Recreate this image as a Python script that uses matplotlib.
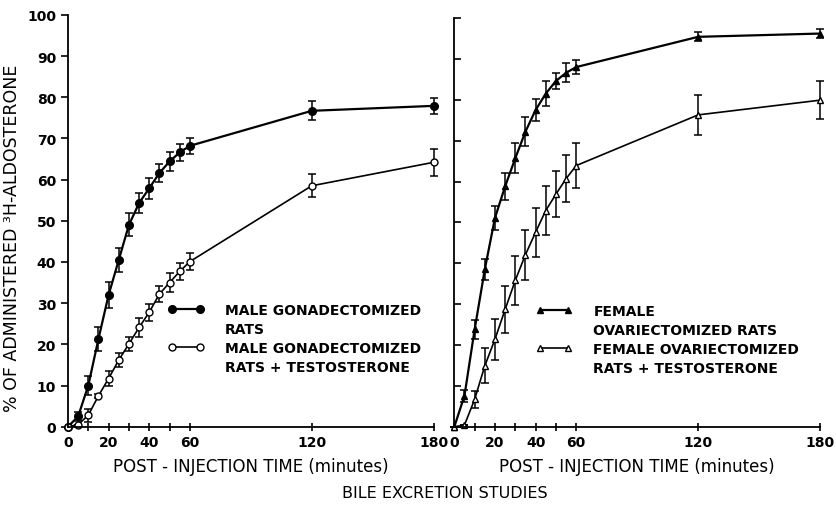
import numpy as np
import matplotlib
matplotlib.use('Agg')
import matplotlib.pyplot as plt
from matplotlib.lines import Line2D

# time points (minutes)
t = [0, 5, 10, 15, 20, 25, 30, 35, 40, 45, 50, 55, 60, 120, 180]

# male gonadectomized rats
male = [0, 2.5, 10.0, 21.3, 32.0, 40.5, 49.0, 54.3, 57.9, 61.6, 64.4, 66.6, 68.2, 76.7, 77.9]
male_err = [0, 1.0, 2.2, 2.8, 3.2, 3.0, 2.8, 2.4, 2.5, 2.2, 2.2, 2.1, 2.0, 2.3, 2.0]
# male gonadectomized rats + testosterone
male_t = [0, 0.5, 2.8, 7.5, 11.7, 16.2, 20.1, 24.1, 27.8, 32.2, 35.0, 37.7, 40.1, 58.5, 64.2]
male_t_err = [0, 0, 1.6, 0.5, 1.8, 1.8, 1.6, 2.2, 2.1, 2.0, 2.3, 2.0, 2.1, 2.8, 3.3]

# female ovariectomized rats
female = [0, 7.6, 23.8, 38.5, 51.1, 58.8, 65.7, 72.2, 77.5, 81.5, 84.6, 86.6, 88.0, 95.4, 96.2]
female_err = [0, 1.5, 2.4, 2.6, 3.0, 3.3, 3.7, 3.5, 2.7, 3.0, 2.0, 2.3, 1.8, 1.1, 1.0]
# female ovariectomized rats + testosterone
female_t = [0, 0.4, 6.7, 14.9, 21.4, 28.7, 35.8, 42.1, 47.6, 52.9, 56.9, 60.7, 63.9, 76.3, 79.9]
female_t_err = [0, 0, 2.1, 4.3, 5.0, 5.7, 5.9, 6.1, 6.0, 5.9, 5.6, 5.7, 5.4, 4.9, 4.7]

major_x = [0, 20, 40, 60, 120, 180]
minor_x = [10, 30, 50]
yticks = np.arange(0, 101, 10)

plt.rcParams['font.family'] = 'DejaVu Sans'

fig = plt.figure(figsize=(8.37, 5.06), dpi=100)
ax1 = fig.add_axes([0.0812, 0.1547, 0.437, 0.814])
ax2 = fig.add_axes([0.5428, 0.1547, 0.437, 0.8077])

def style_axis(ax, ytick_dir):
    ax.set_xlim(0, 180)
    ax.set_ylim(0, 100)
    ax.spines['top'].set_visible(False)
    ax.spines['right'].set_visible(False)
    ax.spines['left'].set_linewidth(1.3)
    ax.spines['bottom'].set_linewidth(1.3)
    ax.set_xticks(major_x)
    ax.set_xticks(minor_x, minor=True)
    ax.set_yticks(yticks)
    ax.tick_params(axis='x', which='both', direction='inout', length=6, width=1.2,
                   labelsize=10, pad=3)
    ax.tick_params(axis='y', direction=ytick_dir, length=5, width=1.2, labelsize=10)
    ax.set_xlabel('POST - INJECTION TIME (minutes)', fontsize=12, labelpad=6)

def series(ax, y, err, marker, mfc, ms, lw):
    ax.errorbar(t, y, yerr=err, color='black', marker=marker, mfc=mfc, mec='black',
                ms=ms, lw=lw, elinewidth=1.1, capsize=3, capthick=1.1, clip_on=False)

# left panel
series(ax1, male, male_err, 'o', 'black', 5.5, 1.6)
series(ax1, male_t, male_t_err, 'o', 'white', 5, 1.2)
style_axis(ax1, 'out')
ax1.set_ylabel('% OF ADMINISTERED ³H-ALDOSTERONE', fontsize=12.5)
ax1.yaxis.set_label_coords(-0.128, 0.46)
for lbl in ax1.get_xticklabels() + ax1.get_yticklabels():
    lbl.set_fontweight('bold')

blank = Line2D([], [], color='none')
h1 = Line2D([], [], color='black', marker='o', mfc='black', ms=5.5, lw=1.6)
h2 = Line2D([], [], color='black', marker='o', mfc='white', ms=5, lw=1.2)
ax1.legend([h1, blank, h2, blank],
           ['MALE GONADECTOMIZED', 'RATS', 'MALE GONADECTOMIZED', 'RATS + TESTOSTERONE'],
           loc='upper left', bbox_to_anchor=(0.24, 0.33), frameon=False,
           handlelength=2.6, handletextpad=1.5, labelspacing=0.35,
           numpoints=2, prop={'size': 10, 'weight': 'bold'})

# right panel
series(ax2, female, female_err, '^', 'black', 5, 1.6)
series(ax2, female_t, female_t_err, '^', 'white', 4.5, 1.2)
style_axis(ax2, 'in')
ax2.set_yticklabels([])
for lbl in ax2.get_xticklabels():
    lbl.set_fontweight('bold')

h3 = Line2D([], [], color='black', marker='^', mfc='black', ms=5, lw=1.6)
h4 = Line2D([], [], color='black', marker='^', mfc='white', ms=4.5, lw=1.2)
ax2.legend([h3, blank, h4, blank],
           ['FEMALE', 'OVARIECTOMIZED RATS', 'FEMALE OVARIECTOMIZED', 'RATS + TESTOSTERONE'],
           loc='upper left', bbox_to_anchor=(0.19, 0.33), frameon=False,
           handlelength=2.6, handletextpad=1.5, labelspacing=0.35,
           numpoints=2, prop={'size': 10, 'weight': 'bold'})

fig.text(0.532, 0.024, 'BILE EXCRETION STUDIES', ha='center', va='center', fontsize=11.5)

fig.savefig('out.png', dpi=100)
